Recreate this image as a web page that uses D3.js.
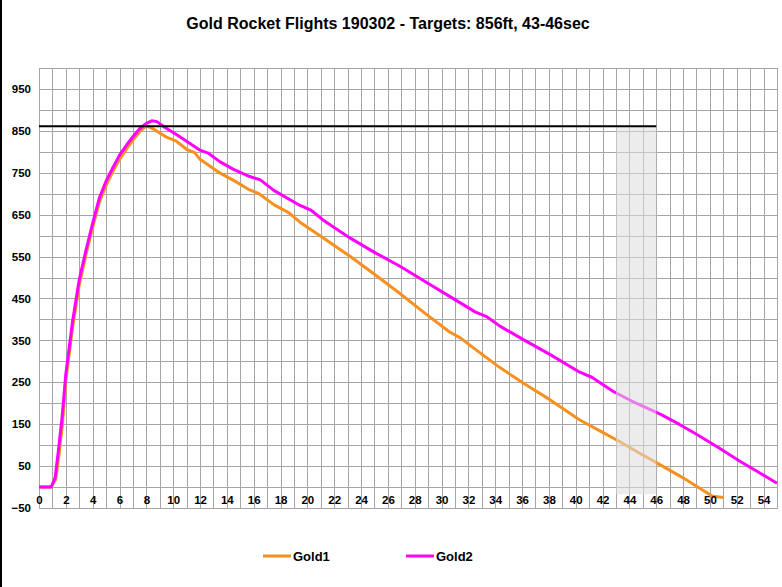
<!DOCTYPE html>
<html>
<head>
<meta charset="utf-8">
<script src="https://cdn.jsdelivr.net/npm/d3@7"></script>
<style>
  html, body { margin: 0; padding: 0; background: #fff; }
  svg { display: block; font-family: "Liberation Sans", Arial, sans-serif; }
</style>
</head>
<body>
<svg id="chart" width="782" height="587"></svg>
<script>
// ---- data ----
const title = "Gold Rocket Flights 190302 - Targets: 856ft, 43-46sec";
const seriesNames = ["Gold1", "Gold2"];
const seriesColors = ["#F7901E", "#FF00FF"];

const gold1Time = [0, 0.9, 1.25, 1.5, 1.75, 2.0, 2.5, 3.0, 3.5, 4.0, 4.5, 5.0, 5.5, 6.0, 6.5, 7.0, 7.5, 8.0, 8.5, 9.5, 10.2, 11.0, 11.6, 12.0, 13.5, 14.6, 15.7, 16.4, 17.5, 18.6, 19.45, 21.3, 23.2, 25.0, 26.9, 28.8, 30.6, 31.4, 32.5, 34.35, 36.2, 38.1, 40.3, 41.8, 43.3, 44.8, 46.3, 48.0, 49.8, 50.2, 51.0];
const gold1Alt  = [0, 0, 18, 80, 150, 255, 380, 482, 555, 620, 680, 720, 753, 782, 806, 828, 848, 862, 855, 835, 826, 806, 798, 782, 749, 730, 709, 700, 674, 655, 632, 592, 550, 508, 462, 414, 370, 356, 329, 285, 246, 208, 160, 134, 108, 80, 53, 22, -14, -22, -25];

const gold2Time = [0, 0.9, 1.2, 1.45, 1.7, 1.85, 2.0, 2.5, 3.0, 3.5, 4.0, 4.5, 5.0, 5.5, 6.0, 6.5, 7.0, 7.5, 8.0, 8.4, 8.8, 9.3, 10.3, 11.0, 12.0, 12.6, 13.5, 14.5, 15.7, 16.5, 17.5, 19.45, 20.3, 21.3, 23.2, 25.0, 26.9, 28.8, 30.6, 32.5, 33.4, 34.35, 36.2, 38.1, 40.3, 41.2, 42.8, 44.5, 46.3, 47.7, 49.0, 50.6, 52.2, 53.6, 55.0];
const gold2Alt  = [0, 0, 22, 88, 160, 215, 270, 395, 495, 565, 630, 690, 730, 762, 792, 815, 836, 855, 868, 874, 872, 860, 840, 825, 804, 797, 776, 758, 741, 733, 708, 672, 660, 634, 594, 560, 527, 490, 455, 418, 406, 384, 350, 316, 274, 262, 228, 200, 174, 150, 126, 95, 62, 36, 9];

const targetTime = [0, 46];
const targetAlt = [861, 861];
const targetWindow = [43, 46];
const windowAlt = [-17, 861];

const xTicks = d3.range(0, 55, 2);
const yTicks = d3.range(-50, 1000, 100);
const xGrid = d3.range(0, 56, 1);
const yGrid = d3.range(-50, 1001, 50);

// ---- layout ----
const svg = d3.select("#chart");
const W = 782, H = 587;
const plot = { left: 39, right: 777, top: 68, bottom: 508 };

const x = d3.scaleLinear().domain([0, 55]).range([plot.left, plot.right]);
const y = d3.scaleLinear().domain([-50, 1000]).range([plot.bottom, plot.top]);

svg.append("rect").attr("width", W).attr("height", H).attr("fill", "#fff");
svg.append("rect").attr("x", 0).attr("y", 0).attr("width", 2).attr("height", H).attr("fill", "#000");

// title
svg.append("text")
  .attr("x", 388).attr("y", 29)
  .attr("text-anchor", "middle")
  .attr("font-size", 16).attr("font-weight", "bold")
  .attr("fill", "#000")
  .text(title);

// grid via axes
const gridColor = "#A6A6A6";
const gx = svg.append("g")
  .attr("transform", `translate(0,${plot.bottom})`)
  .call(d3.axisBottom(x).tickValues(xGrid).tickSize(-(plot.bottom - plot.top)).tickFormat(""));
const gy = svg.append("g")
  .attr("transform", `translate(${plot.left},0)`)
  .call(d3.axisLeft(y).tickValues(yGrid).tickSize(-(plot.right - plot.left)).tickFormat(""));
[gx, gy].forEach(g => {
  g.select(".domain").remove();
  g.selectAll("line").attr("stroke", gridColor).attr("stroke-width", 1).attr("shape-rendering", "crispEdges");
});
svg.append("rect")
  .attr("x", plot.left).attr("y", plot.top)
  .attr("width", plot.right - plot.left).attr("height", plot.bottom - plot.top)
  .attr("fill", "none").attr("stroke", gridColor).attr("shape-rendering", "crispEdges");

// series
const line = d3.line().x(d => x(d[0])).y(d => y(d[1]));
const series = [
  d3.zip(gold1Time, gold1Alt),
  d3.zip(gold2Time, gold2Alt)
];
series.forEach((s, i) => {
  svg.append("path").datum(s)
    .attr("d", line)
    .attr("fill", "none")
    .attr("stroke", seriesColors[i])
    .attr("stroke-width", 3)
    .attr("stroke-linejoin", "round");
});

// target window (semi-transparent overlay)
svg.append("rect")
  .attr("x", x(targetWindow[0])).attr("width", x(targetWindow[1]) - x(targetWindow[0]))
  .attr("y", y(windowAlt[1])).attr("height", y(windowAlt[0]) - y(windowAlt[1]))
  .attr("fill", "#DCDCDC").attr("fill-opacity", 0.55);

// target altitude line
svg.append("path").datum(d3.zip(targetTime, targetAlt))
  .attr("d", line)
  .attr("fill", "none").attr("stroke", "#000").attr("stroke-width", 2);

// axis labels
const ax = svg.append("g")
  .attr("transform", `translate(0,${y(-25)})`)
  .call(d3.axisBottom(x).tickValues(xTicks).tickSize(0).tickPadding(0).tickFormat(d3.format("d")));
ax.select(".domain").remove();
ax.selectAll("text")
  .attr("dy", "0.35em").attr("y", 2)
  .attr("font-family", "Liberation Sans, Arial, sans-serif")
  .attr("font-size", 11.5).attr("font-weight", "bold").attr("fill", "#000");

const ay = svg.append("g")
  .attr("transform", `translate(31,0)`)
  .call(d3.axisLeft(y).tickValues(yTicks).tickSize(0).tickPadding(0).tickFormat(d3.format("d")));
ay.select(".domain").remove();
ay.selectAll("text")
  .attr("font-family", "Liberation Sans, Arial, sans-serif")
  .attr("font-size", 11.5).attr("font-weight", "bold").attr("fill", "#000");

// legend
const legendX = [263, 406];
seriesNames.forEach((name, i) => {
  const g = svg.append("g").attr("transform", `translate(${legendX[i]},556)`);
  g.append("line").attr("x1", 0).attr("x2", 28).attr("y1", 0).attr("y2", 0)
    .attr("stroke", seriesColors[i]).attr("stroke-width", 3);
  g.append("text").attr("x", 30).attr("y", 5)
    .attr("font-size", 13).attr("font-weight", "bold").attr("fill", "#000")
    .text(name);
});
</script>
</body>
</html>
